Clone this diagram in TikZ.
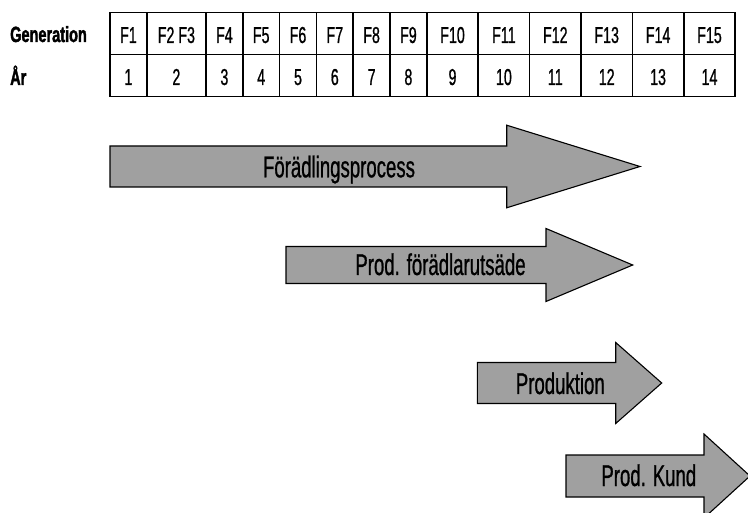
\documentclass[tikz,border=0pt]{standalone}
\usepackage{fontspec}
\setmainfont[FakeStretch=0.62, FakeBold=0.8, BoldFeatures={FakeStretch=0.66, FakeBold=1.6}]{Liberation Sans}
\usepackage{xcolor}
\usepackage{tikz}
\definecolor{arrowgray}{HTML}{A0A0A0}
\tikzset{
	cell/.style={draw, line width=1.6pt, inner sep=0pt, outer sep=0pt, minimum height=42pt, text height=19pt, text depth=0pt, font=\fontsize{23}{25}\selectfont},
	cellN/.style={cell, minimum width=36.8pt},
	cellD/.style={cell, minimum width=59.2pt},
	cellW/.style={cell, minimum width=51.4pt},
	rowlabel/.style={anchor=base west, inner sep=0pt, font=\fontsize{22}{24}\selectfont\bfseries},
	bigarrow/.style={draw, fill=arrowgray, line width=1.1pt, line join=miter},
	arrowlabel/.style={anchor=base, inner sep=0pt, font=\fontsize{30}{32}\selectfont},
}

\begin{document}
\begin{tikzpicture}[x=1pt, y=-1pt]
		\useasboundingbox (0,0) rectangle (748,513);
		\clip (0,0) rectangle (748,513);
		\node[rowlabel] (gen) at (10,42) {Generation};
		\node[rowlabel] (ar) at (10,85) {År};
		\node[cellN] (g1) at (128.4,33.5) {F1};
		\node[cellD] (g23) at (176.4,33.5) {F2 F3};
		\node[cellN] (g4) at (224.4,33.5) {F4};
		\node[cellN] (g5) at (261.2,33.5) {F5};
		\node[cellN] (g6) at (298,33.5) {F6};
		\node[cellN] (g7) at (334.8,33.5) {F7};
		\node[cellN] (g8) at (371.6,33.5) {F8};
		\node[cellN] (g9) at (408.4,33.5) {F9};
		\node[cellW] (g10) at (452.5,33.5) {F10};
		\node[cellW] (g11) at (503.9,33.5) {F11};
		\node[cellW] (g12) at (555.3,33.5) {F12};
		\node[cellW] (g13) at (606.7,33.5) {F13};
		\node[cellW] (g14) at (658.1,33.5) {F14};
		\node[cellW] (g15) at (709.5,33.5) {F15};
		\node[cellN] (y1) at (128.4,75.5) {1};
		\node[cellD] (y2) at (176.4,75.5) {2};
		\node[cellN] (y3) at (224.4,75.5) {3};
		\node[cellN] (y4) at (261.2,75.5) {4};
		\node[cellN] (y5) at (298,75.5) {5};
		\node[cellN] (y6) at (334.8,75.5) {6};
		\node[cellN] (y7) at (371.6,75.5) {7};
		\node[cellN] (y8) at (408.4,75.5) {8};
		\node[cellW] (y9) at (452.5,75.5) {9};
		\node[cellW] (y10) at (503.9,75.5) {10};
		\node[cellW] (y11) at (555.3,75.5) {11};
		\node[cellW] (y12) at (606.7,75.5) {12};
		\node[cellW] (y13) at (658.1,75.5) {13};
		\node[cellW] (y14) at (709.5,75.5) {14};
		\draw[bigarrow] (110,146) -- (506.7,146) -- (506.7,125.2) -- (640,166.5) -- (506.7,207.8) -- (506.7,187) -- (110,187) -- cycle;
		\draw[bigarrow] (286,246.5) -- (546,246.5) -- (546,228.5) -- (632.7,265) -- (546,301.5) -- (546,283.5) -- (286,283.5) -- cycle;
		\draw[bigarrow] (477.3,362.5) -- (615.7,362.5) -- (615.7,342.5) -- (661.7,383) -- (615.7,423.5) -- (615.7,403.5) -- (477.3,403.5) -- cycle;
		\draw[bigarrow] (566,455) -- (704,455) -- (704,434) -- (750,476) -- (704,518) -- (704,497) -- (566,497) -- cycle;
		\node[arrowlabel] (lfp) at (339,177.3) {Förädlingsprocess};
		\node[arrowlabel] (lpf) at (440.5,275) {Prod. förädlarutsäde};
		\node[arrowlabel] (lprod) at (560.3,394) {Produktion};
		\node[arrowlabel] (lkund) at (648.8,486) {Prod. Kund};
		% \draw[red] (0,0) grid[step=50] (748,513);
	\end{tikzpicture}
\end{document}
